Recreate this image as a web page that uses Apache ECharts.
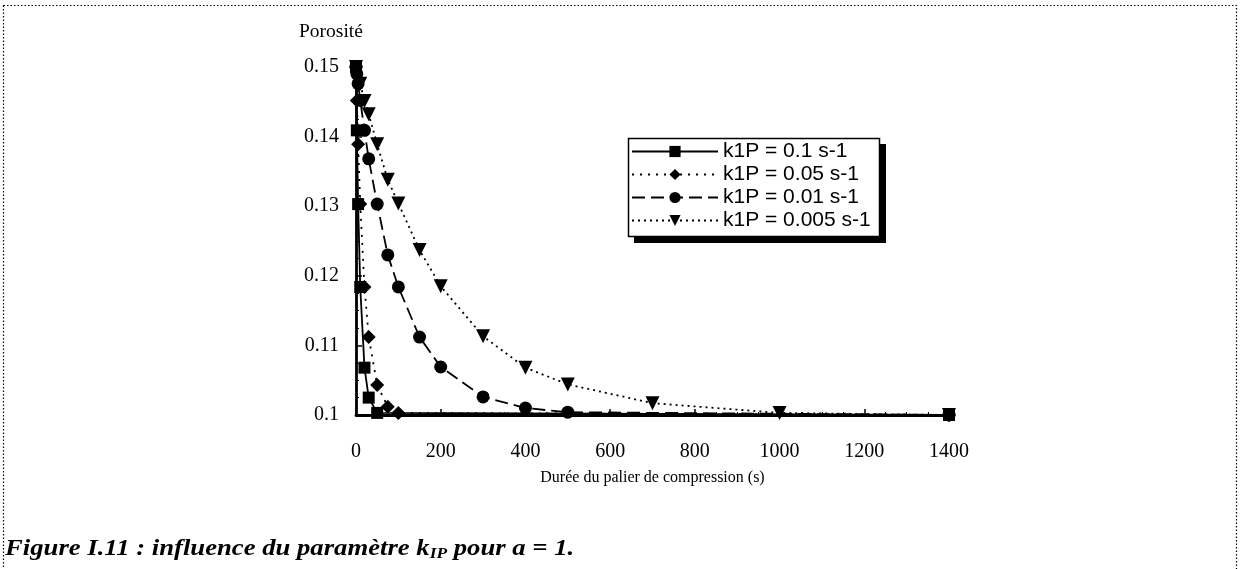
<!DOCTYPE html>
<html><head><meta charset="utf-8">
<script src="https://cdn.jsdelivr.net/npm/echarts@6/dist/echarts.min.js"></script>
<style>html,body{margin:0;padding:0;background:#fff;}#c{width:1241px;height:569px;}</style>
</head><body><div id="c"></div>
<script>
// Data (time in s, porosity)
const names = ['k1P = 0.1 s-1', 'k1P = 0.05 s-1', 'k1P = 0.01 s-1', 'k1P = 0.005 s-1'];
const t1 = [0, 2, 5, 10, 20, 30, 50, 1400];
const p1 = [0.150, 0.1409, 0.1303, 0.1184, 0.1068, 0.1025, 0.1003, 0.1000];
const t2 = [0, 2, 5, 10, 20, 30, 50, 75, 100, 1400];
const p2 = [0.150, 0.1452, 0.1389, 0.1303, 0.1184, 0.1112, 0.1043, 0.1012, 0.1003, 0.1000];
const t3 = [0, 2, 5, 10, 20, 30, 50, 75, 100, 150, 200, 300, 400, 500, 1400];
const p3 = [0.150, 0.1490, 0.1476, 0.1452, 0.1409, 0.1368, 0.1303, 0.1230, 0.1184, 0.1112, 0.1069, 0.1026, 0.1010, 0.1004, 0.1000];
const t4 = [0, 10, 20, 30, 50, 75, 100, 150, 200, 300, 400, 500, 700, 1000, 1400];
const p4 = [0.150, 0.1476, 0.1451, 0.1432, 0.1389, 0.1338, 0.1304, 0.1237, 0.1185, 0.1113, 0.1068, 0.1044, 0.1017, 0.1003, 0.1000];
const xTicks = [0, 200, 400, 600, 800, 1000, 1200, 1400];
const yTicks = [0.1, 0.11, 0.12, 0.13, 0.14, 0.15];

const zip = (a, b) => a.map((v, i) => [v, b[i]]);
const serif = 'Liberation Serif';
const chart = echarts.init(document.getElementById('c'));
const mk = (name, t, p, symbol, size, type, extra) => Object.assign({
  name, type: 'line', data: zip(t, p), symbol, symbolSize: size,
  itemStyle: { color: '#000' },
  lineStyle: { color: '#000', width: 1.8, type },
  animation: false
}, extra || {});
chart.setOption({
  animation: false,
  backgroundColor: '#fff',
  title: [
    { text: 'Porosité', left: 294, top: 17, textStyle: { fontFamily: serif, fontSize: 19.5, fontWeight: 'normal', color: '#000' } }
  ],
  grid: { left: 356, right: 292, top: 67, bottom: 154, containLabel: false },
  legend: {
    orient: 'vertical', left: 628, top: 139,
    backgroundColor: 'transparent', borderWidth: 0,
    padding: [2, 4, 2, 3], itemGap: 2, itemWidth: 86, itemHeight: 14,
    textStyle: { fontFamily: 'Liberation Sans', fontSize: 21, color: '#000', padding: [0, 0, 0, 0] },
    data: names
  },
  xAxis: {
    type: 'value', min: 0, max: 1400, interval: 200,
    name: 'Durée du palier de compression (s)', nameLocation: 'middle', nameGap: 55,
    nameTextStyle: { fontFamily: serif, fontSize: 16, color: '#000' },
    axisLine: { onZero: false, lineStyle: { color: '#000', width: 2.8 } },
    axisTick: { inside: true, length: 6, lineStyle: { color: '#000', width: 1.5 } },
    minorTick: { show: true, splitNumber: 4, length: 3, lineStyle: { color: '#000' } },
    splitLine: { show: false },
    axisLabel: { fontFamily: serif, fontSize: 20, color: '#000', margin: 27,
      customValues: xTicks, formatter: v => String(v) }
  },
  yAxis: {
    type: 'value', min: 0.1, max: 0.15, interval: 0.01,
    axisLine: { show: true, onZero: false, lineStyle: { color: '#000', width: 2.8 } },
    axisTick: { show: true, inside: true, length: 6, lineStyle: { color: '#000', width: 1.5 } },
    minorTick: { show: true, splitNumber: 4, length: 3, lineStyle: { color: '#000' } },
    splitLine: { show: false },
    axisLabel: { fontFamily: serif, fontSize: 20, color: '#000', margin: 17,
      customValues: yTicks, formatter: v => String(+v.toFixed(2)) }
  },
  graphic: [
    { type: 'rect', shape: { x: 3.5, y: 5.5, width: 1233, height: 600 },
      style: { fill: 'none', stroke: '#000', lineWidth: 1.2, lineDash: [1.5, 2] }, silent: true },
    { type: 'rect', shape: { x: 634, y: 144, width: 252, height: 99 },
      style: { fill: '#000' }, silent: true },
    { type: 'rect', shape: { x: 628.5, y: 138.5, width: 251, height: 98 },
      style: { fill: '#fff', stroke: '#000', lineWidth: 1.5 }, silent: true },
    { type: 'text', left: 5, top: 538, scaleX: 1.16,
      style: { text: '{a|Figure I.11 : influence du paramètre k}{s|IP}{a| pour a = 1.}',
        rich: {
          a: { fontFamily: serif, fontSize: 23, fontWeight: 'bold', fontStyle: 'italic', fill: '#000' },
          s: { fontFamily: serif, fontSize: 15, fontWeight: 'bold', fontStyle: 'italic', fill: '#000', padding: [10, 0, 0, 0] }
        } }, silent: true }
  ],
  series: [
    mk(names[0], t1, p1, 'rect', 12, 'solid'),
    mk(names[1], t2, p2, 'diamond', 14, [2, 6]),
    mk(names[2], t3, p3, 'circle', 13, [13, 6]),
    mk(names[3], t4, p4, 'triangle', 14, [2, 4], { symbolRotate: 180 })
  ]
});
</script></body></html>
